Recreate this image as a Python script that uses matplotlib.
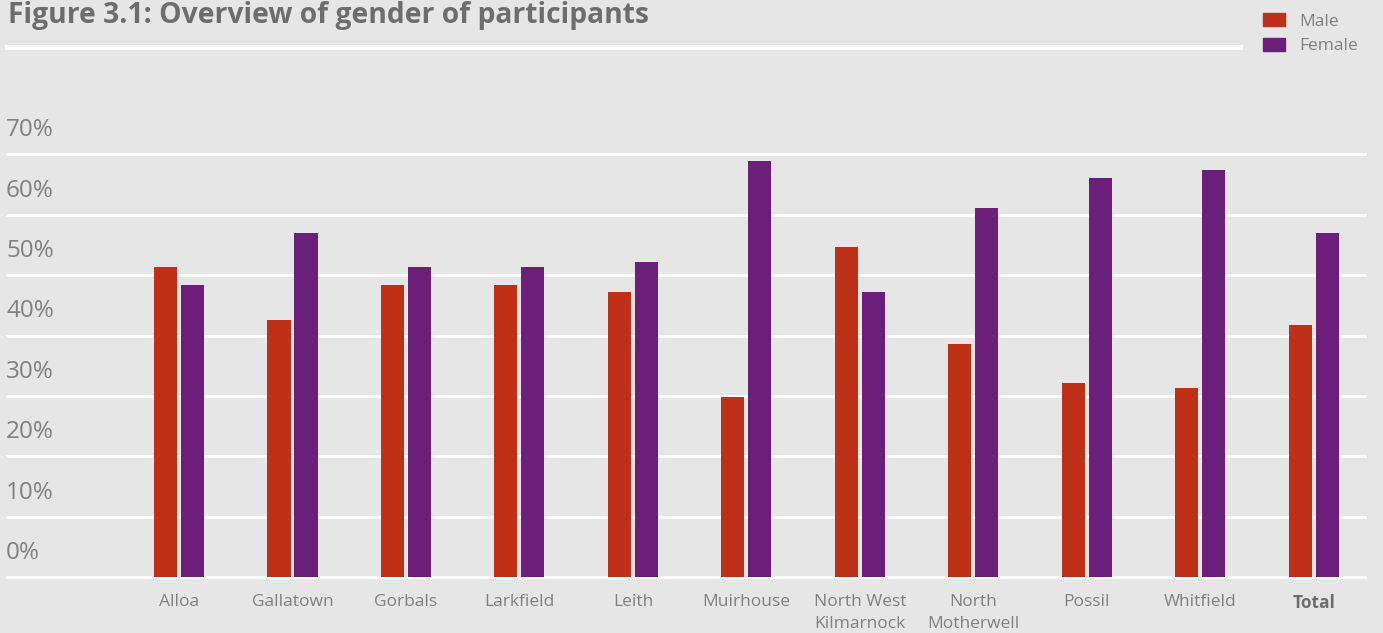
import matplotlib.pyplot as plt
from matplotlib.lines import Line2D
from matplotlib.patches import Patch
import numpy as np

plt.rcParams['font.family'] = ['Open Sans', 'DejaVu Sans']

areas = ['Alloa', 'Gallatown', 'Gorbals', 'Larkfield', 'Leith', 'Muirhouse',
         'North West\nKilmarnock', 'North\nMotherwell', 'Possil', 'Whitfield', 'Total']
male = [51.3, 42.6, 48.4, 48.4, 47.2, 29.8, 54.7, 38.6, 32.2, 31.3, 41.8]
female = [48.4, 57.0, 51.3, 51.3, 52.2, 68.9, 47.2, 61.1, 66.1, 67.4, 57.0]
yticks = [0, 10, 20, 30, 40, 50, 60, 70]

bg = '#e6e6e6'
red = '#bf3019'
purple = '#6b1f7b'
grey = '#808080'

fig = plt.figure(figsize=(13.83, 6.33), dpi=100, facecolor=bg)
ax = fig.add_axes([6/1383, 0.0833, 1361/1383, 0.6777])
ax.set_facecolor(bg)

x = np.arange(len(areas))
w = 0.203
off = 0.119
ax.bar(x - off, male, w, color=red, zorder=3)
ax.bar(x + off, female, w, color=purple, zorder=3)

ax.set_xlim(-1.525, 10.47)
ax.set_ylim(-0.5, 70.5)
for v in yticks:
    ax.axhline(v, color='white', lw=2.0, zorder=1)
    ax.text(-1.525, v + 4.0, f'{v}%', ha='left', va='center',
            fontsize=17.5, color=grey)

ax.set_yticks([])
ax.set_xticks(x)
ax.set_xticklabels(areas, fontsize=12.5, color=grey, linespacing=1.5, va='top')
ax.get_xticklabels()[-1].set_fontweight('bold')
ax.get_xticklabels()[-1].set_color('#6d6d6d')
ax.tick_params(axis='x', length=0, pad=10)
for s in ax.spines.values():
    s.set_visible(False)

# title and rule
fig.text(8/1383, 1 - 23/633, 'Figure 3.1: Overview of gender of participants',
         fontsize=20.3, fontweight='bold', color='#6d6d6d', va='baseline')
fig.add_artist(Line2D([7/1383, 1240/1383], [1 - 46.5/633] * 2,
                      color='white', lw=3.6))

handles = [Patch(color=red), Patch(color=purple)]
fig.legend(handles, ['Male', 'Female'], loc='upper left',
           bbox_to_anchor=(1251/1383, 1 - 1/633), frameon=False,
           fontsize=12.5, labelcolor=grey, handlelength=1.28,
           handleheight=0.8, handletextpad=0.8, labelspacing=0.45,
           borderpad=0.2)

fig.savefig('out.png', dpi=100, facecolor=bg)
